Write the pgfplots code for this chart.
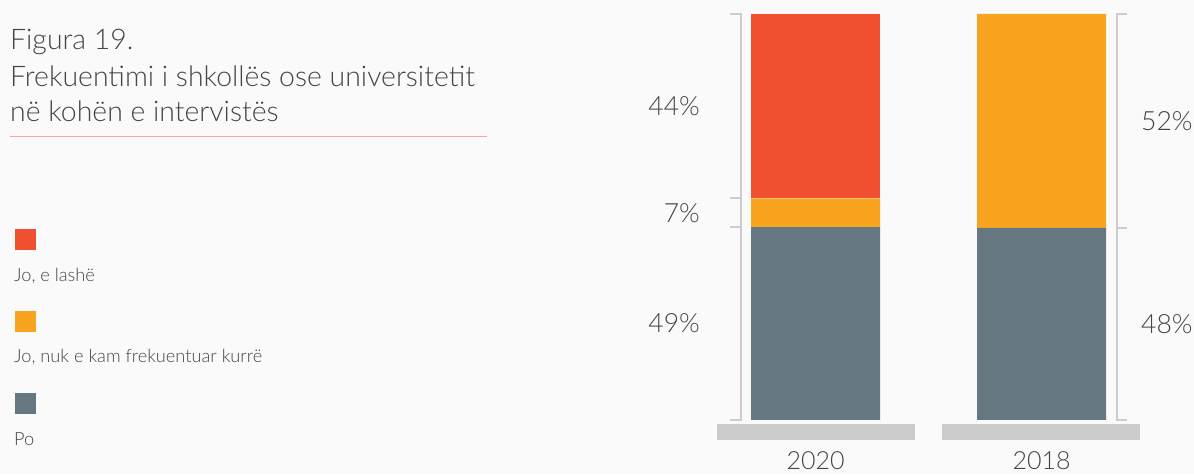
\documentclass[border=0pt]{standalone}
\usepackage{fontspec}
\setmainfont{Lato}[UprightFont={* Light}]
\usepackage{pgfplots}
\pgfplotsset{compat=1.18}
\definecolor{bgc}{HTML}{FAFAFA}
\definecolor{cred}{HTML}{F04F30}
\definecolor{corange}{HTML}{F9A41F}
\definecolor{cgray}{HTML}{657781}
\definecolor{cbase}{HTML}{CBCBCB}
\definecolor{cbrk}{HTML}{CDCDCD}
\definecolor{ctxt}{HTML}{454545}
\definecolor{cline}{HTML}{F6A899}
\begin{document}
\begin{tikzpicture}[x=1pt,y=1pt]
\fill[bgc] (0,0) rectangle (1194,474);
% title
\node[anchor=base west,inner sep=0,text=ctxt,font=\fontsize{28.4}{32}\selectfont] at (10,424) {Figura 19.};
\node[anchor=base west,inner sep=0,text=ctxt,font=\fontsize{28.4}{32}\selectfont] at (10,387) {Frekuentimi i shkollës ose universitetit};
\node[anchor=base west,inner sep=0,text=ctxt,font=\fontsize{28.4}{32}\selectfont] at (10,352) {në kohën e intervistës};
\draw[cline,line width=1pt] (10,337) -- (487,337);
% legend
\fill[cred] (15,224) rectangle (36,245);
\node[anchor=base west,inner sep=0,text=ctxt,font=\fontsize{18.2}{21}\selectfont] at (14,192) {Jo, e lashë};
\fill[corange] (15,142) rectangle (36,163);
\node[anchor=base west,inner sep=0,text=ctxt,font=\fontsize{18.2}{21}\selectfont] at (14,111) {Jo, nuk e kam frekuentuar kurrë};
\fill[cgray] (15,60) rectangle (36,81);
\node[anchor=base west,inner sep=0,text=ctxt,font=\fontsize{18.2}{21}\selectfont] at (14,29) {Po};
\begin{axis}[
  at={(702.5pt,54pt)}, anchor=south west,
  scale only axis, width=452pt, height=406pt,
  hide axis, clip=false,
  xmin=-0.5, xmax=1.5, ymin=0, ymax=100,
  ybar stacked, bar width=129pt,
]
\addplot[fill=cgray,draw=none] coordinates {(0,47.5) (1,47.3)};
\addplot[fill=corange,draw=none] coordinates {(0,7.1) (1,52.7)};
\addplot[fill=cred,draw=none] coordinates {(0,45.4) (1,0)};
% base bars
\fill[cbase] (axis cs:-0.434,-0.985) rectangle (axis cs:0.442,-4.93);
\fill[cbase] (axis cs:0.558,-0.985) rectangle (axis cs:1.434,-4.93);
% brackets
\draw[cbrk,line width=1.8pt] (axis cs:-0.378,100) -- (axis cs:-0.3296,100) -- (axis cs:-0.3296,0) -- (axis cs:-0.378,0);
\draw[cbrk,line width=1.8pt] (axis cs:-0.378,54.6) -- (axis cs:-0.3296,54.6);
\draw[cbrk,line width=1.8pt] (axis cs:-0.378,47.5) -- (axis cs:-0.3296,47.5);
\draw[cbrk,line width=1.8pt] (axis cs:1.378,100) -- (axis cs:1.334,100) -- (axis cs:1.334,0) -- (axis cs:1.378,0);
\draw[cbrk,line width=1.8pt] (axis cs:1.378,47.3) -- (axis cs:1.334,47.3);
% labels
\node[anchor=east,inner sep=0,text=ctxt,font=\fontsize{26.5}{30}\selectfont] at (axis cs:-0.511,77.3) {44\%};
\node[anchor=east,inner sep=0,text=ctxt,font=\fontsize{26.5}{30}\selectfont] at (axis cs:-0.511,51.05) {7\%};
\node[anchor=east,inner sep=0,text=ctxt,font=\fontsize{26.5}{30}\selectfont] at (axis cs:-0.511,23.75) {49\%};
\node[anchor=west,inner sep=0,text=ctxt,font=\fontsize{26.5}{30}\selectfont] at (axis cs:1.44,73.65) {52\%};
\node[anchor=west,inner sep=0,text=ctxt,font=\fontsize{26.5}{30}\selectfont] at (axis cs:1.44,23.65) {48\%};
\node[anchor=base,inner sep=0,text=ctxt,font=\fontsize{25}{30}\selectfont] at (axis cs:0,-12.3) {2020};
\node[anchor=base,inner sep=0,text=ctxt,font=\fontsize{25}{30}\selectfont] at (axis cs:1,-12.3) {2018};
\end{axis}
\pgfresetboundingbox
\path[use as bounding box] (0,0) rectangle (1194,474);
\end{tikzpicture}
\end{document}
